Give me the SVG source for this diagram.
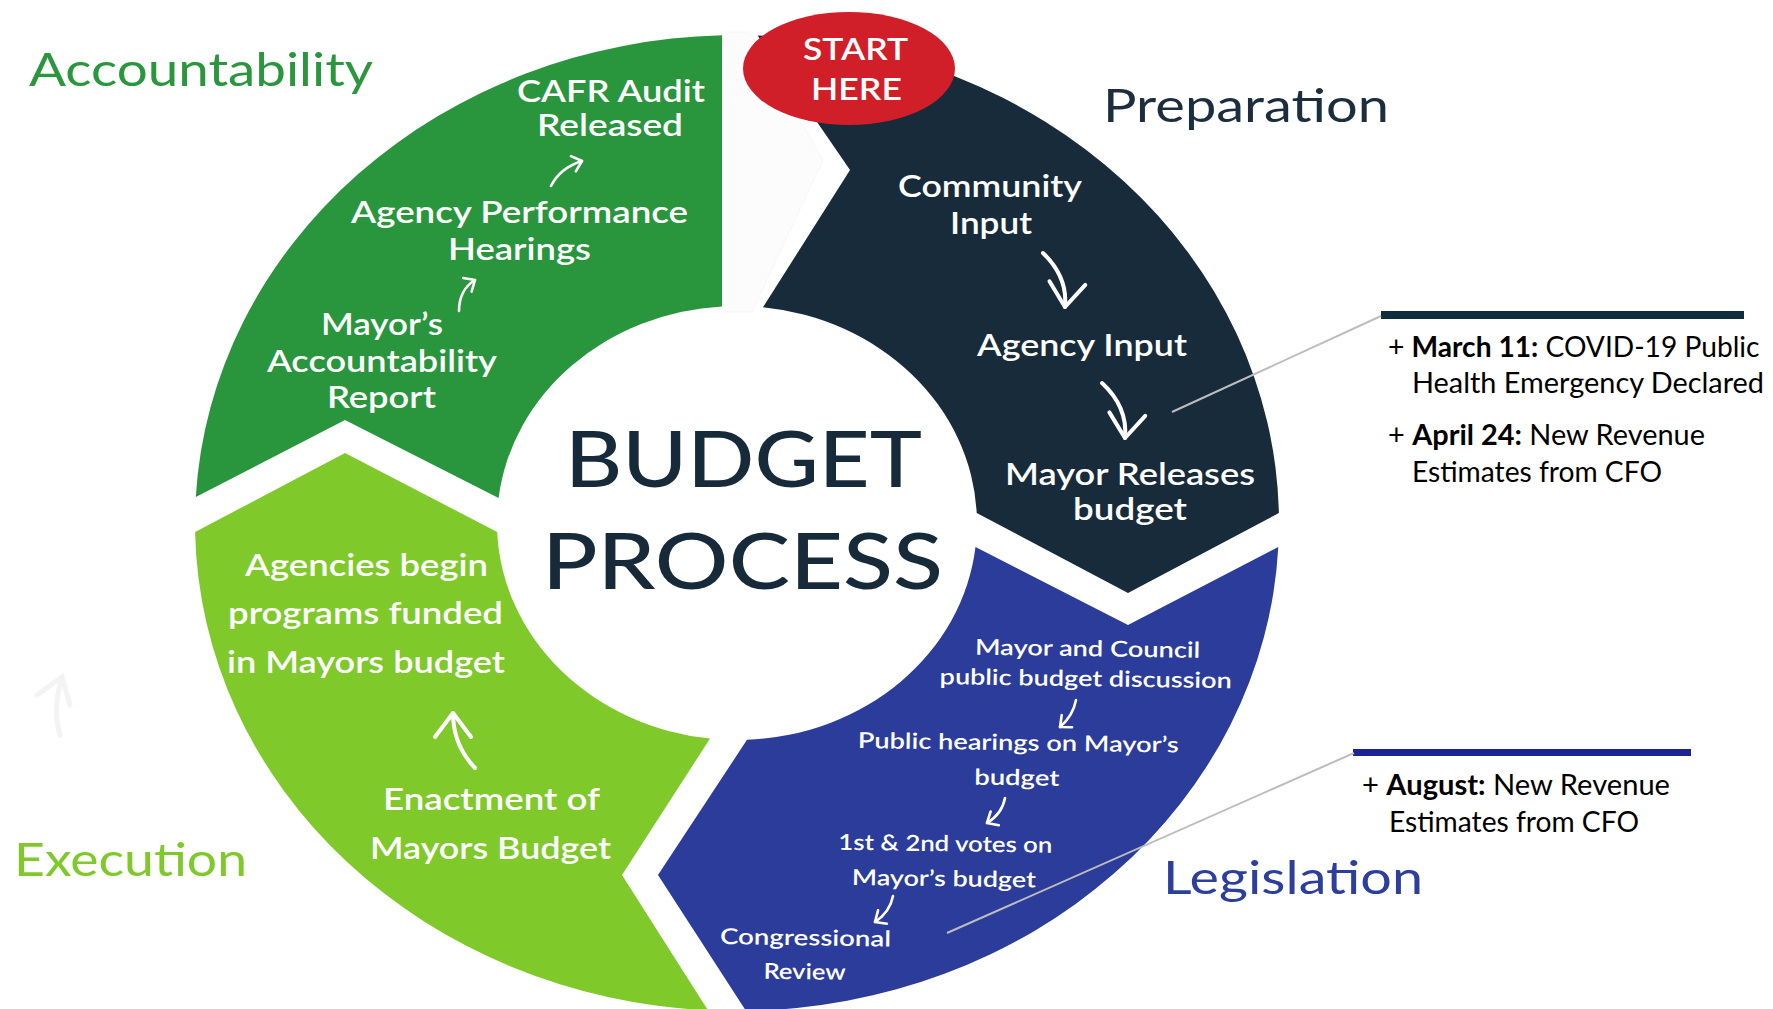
<svg xmlns="http://www.w3.org/2000/svg" width="1773" height="1009" viewBox="0 0 1773 1009">
  <style>
    .lbl { font-family: Lato, "Open Sans", "DejaVu Sans", sans-serif; font-weight: 600; fill: #ffffff; font-size: 30px; text-anchor: middle; }
    .lbls { font-family: Lato, "Open Sans", "DejaVu Sans", sans-serif; font-weight: 600; fill: #ffffff; font-size: 22px; text-anchor: middle; }
    .title { font-family: Lato, "Open Sans", "DejaVu Sans", sans-serif; font-weight: 400; font-size: 46px; }
    .big { font-family: Lato, "Open Sans", "DejaVu Sans", sans-serif; font-weight: 500; fill: #172a3a; font-size: 78px; }
    .note { font-family: Lato, "Liberation Sans", sans-serif; font-weight: 400; fill: #000000; font-size: 28px; }
    .note tspan.b { font-weight: 700; }
    .arrow { fill: none; stroke: #ffffff; stroke-width: 4; stroke-linecap: round; }
    .arrow-s { fill: none; stroke: #ffffff; stroke-width: 2.6; stroke-linecap: round; }
    .leader { fill: none; stroke: #bdbdbd; stroke-width: 2; }
  </style>
  <defs>
    <marker id="headL" markerUnits="userSpaceOnUse" viewBox="-30 -30 60 60" markerWidth="60" markerHeight="60" refX="0" refY="0" orient="auto" overflow="visible">
      <path d="M-24,-18 L0,0 L-24,18" fill="none" stroke="#ffffff" stroke-width="4" stroke-linecap="round" stroke-linejoin="round"/>
    </marker>
    <marker id="headS" markerUnits="userSpaceOnUse" viewBox="-20 -20 40 40" markerWidth="40" markerHeight="40" refX="0" refY="0" orient="auto" overflow="visible">
      <path d="M-9,-8 L0,0 L-9,8" fill="none" stroke="#ffffff" stroke-width="2.6" stroke-linecap="round" stroke-linejoin="round"/>
    </marker>
  </defs>

  <rect x="0" y="0" width="1773" height="1009" fill="#ffffff"/>

  <!-- faint gap chevron -->
  <path d="M722,32 L750,32 L823,160 L752,312 L722,312 Z" fill="#fcfcfc" stroke="#f6f6f6" stroke-width="1"/>
  <!-- faint arrow at left -->
  <path d="M60,735 Q52,708 62,679 M37,695 L62,677 L70,705" fill="none" stroke="#f3f3f3" stroke-width="5" stroke-linecap="round"/>

  <g id="seg-accountability">
    <path d="M195.8,497 A542,488 0 0 1 722,35.2 L722,306.4 A240,217 0 0 0 498.6,498 L345,420 Z" fill="#29963d"/>
    <text class="lbl" x="611" y="102" font-size="27" textLength="188" lengthAdjust="spacingAndGlyphs">CAFR Audit</text>
    <text class="lbl" x="610" y="136" font-size="27" textLength="146" lengthAdjust="spacingAndGlyphs">Released</text>
    <text class="lbl" x="519.5" y="223" textLength="337" lengthAdjust="spacingAndGlyphs">Agency Performance</text>
    <text class="lbl" x="519.5" y="260" textLength="143" lengthAdjust="spacingAndGlyphs">Hearings</text>
    <text class="lbl" x="382" y="335" textLength="122" lengthAdjust="spacingAndGlyphs">Mayor’s</text>
    <text class="lbl" x="382" y="372" textLength="230" lengthAdjust="spacingAndGlyphs">Accountability</text>
    <text class="lbl" x="381.5" y="408" textLength="109" lengthAdjust="spacingAndGlyphs">Report</text>
  </g>

  <g id="seg-preparation">
    <path d="M757.6,35.4 A542,488 0 0 1 1278.9,513 L1128,593 L976.7,513 A240,217 0 0 0 763,307.3 L850,170 Z" fill="#182b3b"/>
    <text class="lbl" x="990" y="196.5" textLength="184" lengthAdjust="spacingAndGlyphs">Community</text>
    <text class="lbl" x="991" y="234" textLength="82" lengthAdjust="spacingAndGlyphs">Input</text>
    <text class="lbl" x="1082" y="356" textLength="210" lengthAdjust="spacingAndGlyphs">Agency Input</text>
    <text class="lbl" x="1130" y="485" textLength="250" lengthAdjust="spacingAndGlyphs">Mayor Releases</text>
    <text class="lbl" x="1130" y="520" textLength="114" lengthAdjust="spacingAndGlyphs">budget</text>
  </g>

  <g id="seg-legislation">
    <path d="M975.5,547 L1128,625 L1278.3,547 A542,488 0 0 1 746,1010.9 L658,875 L747,739.8 A240,217 0 0 0 975.5,547 Z" fill="#2b3c9b"/>
    <g transform="rotate(0.8 1000 800)">
      <text class="lbls" x="1085.5" y="655" textLength="225" lengthAdjust="spacingAndGlyphs">Mayor and Council</text>
      <text class="lbls" x="1084" y="685" textLength="292" lengthAdjust="spacingAndGlyphs">public budget discussion</text>
      <text class="lbls" x="1017.5" y="750" textLength="321" lengthAdjust="spacingAndGlyphs">Public hearings on Mayor’s</text>
      <text class="lbls" x="1016.5" y="785" textLength="85" lengthAdjust="spacingAndGlyphs">budget</text>
      <text class="lbls" x="946" y="852" textLength="214" lengthAdjust="spacingAndGlyphs">1st &amp; 2nd votes on</text>
      <text class="lbls" x="945" y="887" textLength="184" lengthAdjust="spacingAndGlyphs">Mayor’s budget</text>
      <text class="lbls" x="807.5" y="948" textLength="171" lengthAdjust="spacingAndGlyphs">Congressional</text>
      <text class="lbls" x="807" y="982" textLength="82" lengthAdjust="spacingAndGlyphs">Review</text>
    </g>
  </g>

  <g id="seg-execution">
    <path d="M195.1,532 L345,453 L497.2,532 A240,217 0 0 0 710,738.6 L622,875 L708,1010.3 A542,488 0 0 1 195.1,532 Z" fill="#80c92b"/>
    <text class="lbl" x="366.5" y="576" textLength="243" lengthAdjust="spacingAndGlyphs">Agencies begin</text>
    <text class="lbl" x="365.5" y="624" textLength="275" lengthAdjust="spacingAndGlyphs">programs funded</text>
    <text class="lbl" x="366" y="673" textLength="278" lengthAdjust="spacingAndGlyphs">in Mayors budget</text>
    <text class="lbl" x="491.5" y="810" textLength="217" lengthAdjust="spacingAndGlyphs">Enactment of</text>
    <text class="lbl" x="490.5" y="859" textLength="241" lengthAdjust="spacingAndGlyphs">Mayors Budget</text>
  </g>

  <g id="start-here">
    <ellipse cx="849" cy="68.5" rx="106" ry="56.5" fill="#d01f29"/>
    <text class="lbl" x="855.5" y="60" font-size="32" textLength="105" lengthAdjust="spacingAndGlyphs">START</text>
    <text class="lbl" x="856.5" y="100" font-size="32" textLength="91" lengthAdjust="spacingAndGlyphs">HERE</text>
  </g>

  <g id="center-title">
    <text class="big" x="565" y="486.5" textLength="357" lengthAdjust="spacingAndGlyphs">BUDGET</text>
    <text class="big" x="542" y="589" font-size="80" textLength="401" lengthAdjust="spacingAndGlyphs">PROCESS</text>
  </g>

  <g id="phase-titles">
    <text class="title" x="29" y="86" font-size="50" fill="#2a963d" textLength="344" lengthAdjust="spacingAndGlyphs">Accountability</text>
    <text class="title" x="1103" y="122" font-size="45" fill="#1c2e3e" textLength="286" lengthAdjust="spacingAndGlyphs">Preparation</text>
    <text class="title" x="14" y="875.5" font-size="43" fill="#80c92b" textLength="233" lengthAdjust="spacingAndGlyphs">Execution</text>
    <text class="title" x="1163" y="894" font-size="45" fill="#2d3f9d" textLength="260" lengthAdjust="spacingAndGlyphs">Legislation</text>
  </g>

  <g id="note-preparation">
    <rect x="1381" y="311" width="363" height="8" fill="#0e2d3d"/>
    <text class="note" x="1388" y="357" textLength="371.5" lengthAdjust="spacingAndGlyphs">+ <tspan class="b">March 11:</tspan> COVID-19 Public</text>
    <text class="note" x="1412" y="393" textLength="352" lengthAdjust="spacingAndGlyphs">Health Emergency Declared</text>
    <text class="note" x="1388" y="445" textLength="317" lengthAdjust="spacingAndGlyphs">+ <tspan class="b">April 24:</tspan> New Revenue</text>
    <text class="note" x="1412" y="482" textLength="250" lengthAdjust="spacingAndGlyphs">Estimates from CFO</text>
  </g>

  <g id="note-legislation">
    <rect x="1353" y="749" width="338" height="7" fill="#1b2490"/>
    <text class="note" x="1362" y="795" textLength="308" lengthAdjust="spacingAndGlyphs">+ <tspan class="b">August:</tspan> New Revenue</text>
    <text class="note" x="1389" y="832" textLength="250" lengthAdjust="spacingAndGlyphs">Estimates from CFO</text>
  </g>

  <g id="connectors">
    <path class="arrow" d="M1043,253 Q1068,277 1065,307" marker-end="url(#headL)"/>
    <path class="arrow" d="M1102,383 Q1128,407 1125,438" marker-end="url(#headL)"/>
    <path class="arrow" d="M475,768 Q453,745 453,713" marker-end="url(#headL)"/>
    <path class="arrow-s" d="M551,186 Q560,168 582,161" marker-end="url(#headS)"/>
    <path class="arrow-s" d="M459,311 Q459,290 475,280" marker-end="url(#headS)"/>
    <path class="arrow-s" d="M1076,700 Q1073,716 1060,727" marker-end="url(#headS)"/>
    <path class="arrow-s" d="M1005,798 Q1002,814 987,823" marker-end="url(#headS)"/>
    <path class="arrow-s" d="M893,896 Q890,912 875,922" marker-end="url(#headS)"/>
    <line class="leader" x1="1172" y1="412" x2="1381" y2="316"/>
    <line class="leader" x1="947" y1="933" x2="1354" y2="753"/>
  </g>
</svg>
